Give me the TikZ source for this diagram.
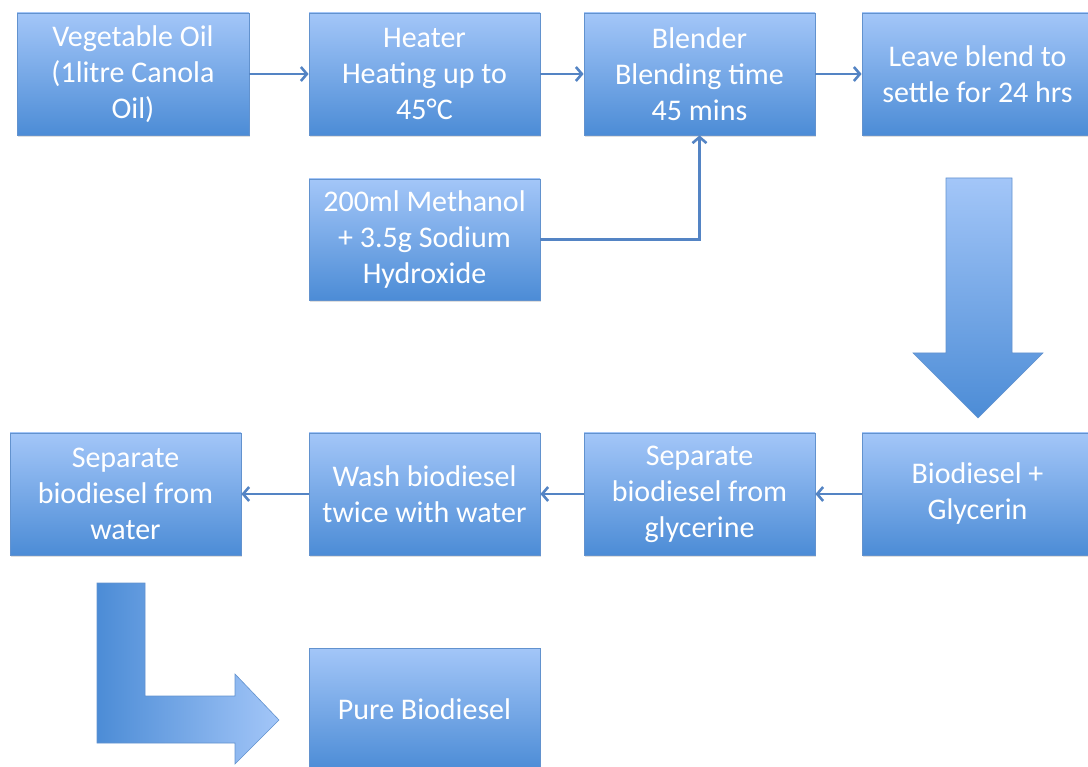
\documentclass[tikz,border=0pt]{standalone}
\usepackage{fontspec}
\setmainfont{Carlito}
\usetikzlibrary{arrows.meta,shadows}

\definecolor{boxtop}{RGB}{163,198,248}
\definecolor{boxbot}{RGB}{76,140,214}
\definecolor{boxedge}{RGB}{98,146,206}
\definecolor{flowline}{RGB}{84,132,196}

\begin{document}
\begin{tikzpicture}[x=1pt,y=-1pt,
    stepbox/.style={draw=boxedge,line width=0.8pt,top color=boxtop,bottom color=boxbot,
        text=white,align=center,minimum width=231pt,minimum height=122pt,inner sep=0pt,
        font=\fontsize{30}{36}\selectfont,
        drop shadow={opacity=0.25,shadow xshift=1pt,shadow yshift=-2pt}},
    flow/.style={draw=flowline,line width=2.6pt,-{Straight Barb[length=6pt,width=14pt]}},
    bigarrow/.style={draw=boxedge,line width=0.6pt}]

    \useasboundingbox (0,0) rectangle (1088,767);

    % Top row
    \node [stepbox,minimum width=232pt] (oil) at (133,74) {Vegetable Oil\\(1litre Canola\\Oil)};
    \node [stepbox] (heater) at (424.5,74) {Heater\\Heating up to\\45°C};
    \node [stepbox] (blender) at (699.5,74) {Blender\\Blending time\\45 mins};
    \node [stepbox] (settle) at (977.5,74) {Leave blend to\\settle for 24 hrs};

    % Methanol feed
    \node [stepbox,minimum height=121pt] (methanol) at (424.5,239.5) {200ml Methanol\\+ 3.5g Sodium\\Hydroxide};

    % Bottom row
    \node [stepbox] (bioglyc) at (977.5,494) {Biodiesel +\\Glycerin};
    \node [stepbox] (sepgly) at (699.5,494) {Separate\\biodiesel from\\glycerine};
    \node [stepbox] (wash) at (424.5,494) {Wash biodiesel\\twice with water};
    \node [stepbox] (sepwater) at (125.5,494) {Separate\\biodiesel from\\water};

    % Result
    \node [stepbox] (pure) at (424.5,709) {Pure Biodiesel};

    % Connectors
    \draw [flow] (oil) -- (heater);
    \draw [flow] (heater) -- (blender);
    \draw [flow] (blender) -- (settle);
    \draw [flow] (methanol.east) -| (blender.south);
    \draw [flow] (bioglyc) -- (sepgly);
    \draw [flow] (sepgly) -- (wash);
    \draw [flow] (wash) -- (sepwater);

    % Block arrow down
    \path [bigarrow,top color=boxtop,bottom color=boxbot]
        (946,178) -- (1012,178) -- (1012,353) -- (1043,353) -- (978,418)
        -- (913,353) -- (946,353) -- cycle;

    % Bent block arrow
    \path [bigarrow,left color=boxbot,right color=boxtop]
        (97,583) -- (145,583) -- (145,696) -- (235,696) -- (235,674) -- (279,720)
        -- (235,764) -- (235,743) -- (97,743) -- cycle;

\end{tikzpicture}
\end{document}
